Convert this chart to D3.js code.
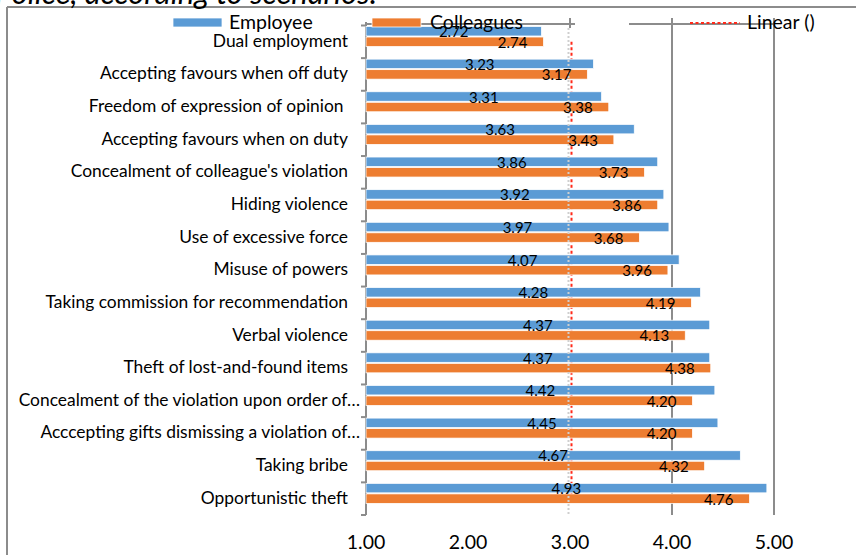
<!DOCTYPE html>
<html>
<head>
<meta charset="utf-8">
<script src="https://cdn.jsdelivr.net/npm/d3@7"></script>
<style>
  html, body { margin: 0; padding: 0; background: #fff; }
  svg { display: block; }
  text { font-family: "Lato", "Liberation Sans", sans-serif; fill: #000; }
</style>
</head>
<body>
<svg id="chart" width="856" height="555"></svg>
<script>
// ---- data ----
const title = "Police, according to scenarios.";
const categories = [
  "Dual employment",
  "Accepting favours when off duty",
  "Freedom of expression of opinion ",
  "Accepting favours when on duty",
  "Concealment of colleague's violation",
  "Hiding violence",
  "Use of excessive force",
  "Misuse of powers",
  "Taking commission for recommendation",
  "Verbal violence",
  "Theft of lost-and-found items",
  "Concealment of the violation upon order of…",
  "Acccepting gifts dismissing a violation of…",
  "Taking bribe",
  "Opportunistic theft"
];
const employee   = [2.72, 3.23, 3.31, 3.63, 3.86, 3.92, 3.97, 4.07, 4.28, 4.37, 4.37, 4.42, 4.45, 4.67, 4.93];
const colleagues = [2.74, 3.17, 3.38, 3.43, 3.73, 3.86, 3.68, 3.96, 4.19, 4.13, 4.38, 4.20, 4.20, 4.32, 4.76];
const seriesNames = ["Employee", "Colleagues"];
const trendName = "Linear ()";
const trendValue = 3.0;
const xTicks = [1, 2, 3, 4, 5];
const xDomain = [1, 5];

// ---- layout ----
const svg = d3.select("#chart");
const colors = { Employee: "#5B9BD5", Colleagues: "#ED7D31" };
const grey = "#8c8c8c";

const x = d3.scaleLinear().domain(xDomain).range([366, 774]);
const y = d3.scaleBand().domain(categories).range([25.5, 515]).padding(0);
const ySub = d3.scaleBand().domain(seriesNames).range([1, 21]).paddingInner(0.1);

const rows = categories.map((c, i) => ({ c, Employee: employee[i], Colleagues: colleagues[i] }));

// frame
svg.append("line").attr("x1", 7).attr("x2", 856).attr("y1", 7).attr("y2", 7)
  .attr("stroke", grey).attr("stroke-width", 2);
svg.append("line").attr("x1", 7).attr("x2", 7).attr("y1", 7).attr("y2", 555)
  .attr("stroke", grey).attr("stroke-width", 2);

// title (cut off at top)
svg.append("text").attr("x", -5).attr("y", 4)
  .style("font-size", "31px").style("font-style", "italic")
  .text(title);

// gridlines
const yTop = 18, yBot = y.range()[1];
svg.append("g").selectAll("line").data(xTicks.filter(t => t >= 4)).join("line")
  .attr("x1", d => x(d)).attr("x2", d => x(d))
  .attr("y1", yTop).attr("y2", yBot)
  .attr("stroke", grey).attr("stroke-width", 2);
svg.append("line").attr("x1", x(3)).attr("x2", x(3)).attr("y1", yTop).attr("y2", 28)
  .attr("stroke", grey).attr("stroke-width", 2);

// top horizontal line segments
svg.append("line").attr("x1", x(1)).attr("x2", x(3) + 5).attr("y1", 24).attr("y2", 24)
  .attr("stroke", grey).attr("stroke-width", 2);
svg.append("line").attr("x1", x(3) + 59).attr("x2", x(5)).attr("y1", 24).attr("y2", 24)
  .attr("stroke", grey).attr("stroke-width", 2);

// trend line (behind bars)
svg.append("line")
  .attr("x1", x(trendValue) + 1.5).attr("x2", x(trendValue) + 1.5)
  .attr("y1", y(categories[0]) + y.bandwidth() / 2)
  .attr("y2", y(categories[categories.length - 1]) + y.bandwidth() / 2)
  .attr("stroke", "#FF2A1A").attr("stroke-width", 2).attr("stroke-dasharray", "3,2.5");

// y axis
const yAxisG = svg.append("g");
yAxisG.append("line").attr("x1", x(1)).attr("x2", x(1)).attr("y1", 22).attr("y2", yBot)
  .attr("stroke", grey).attr("stroke-width", 2);
const bounds = categories.map(c => y(c)).concat([yBot]);
yAxisG.selectAll("line.tk").data(bounds).join("line").attr("class", "tk")
  .attr("x1", x(1) - 5).attr("x2", x(1)).attr("y1", d => d).attr("y2", d => d)
  .attr("stroke", grey).attr("stroke-width", 2);

// category labels
svg.append("g").selectAll("text").data(categories).join("text")
  .attr("x", d => d.endsWith("…") ? 360 : 348)
  .attr("y", d => y(d) + y.bandwidth() / 2 + 5)
  .attr("text-anchor", "end")
  .style("font-size", "17.4px")
  .style("white-space", "pre")
  .text(d => d);

// bars
const barG = svg.append("g");
seriesNames.forEach(s => {
  barG.selectAll("rect." + s).data(rows).join("rect").attr("class", s)
    .attr("x", x(1))
    .attr("y", d => y(d.c) + ySub(s))
    .attr("width", d => x(d[s]) - x(1))
    .attr("height", ySub.bandwidth())
    .attr("fill", colors[s])
    .attr("stroke", "#fff").attr("stroke-width", 0.75);
});

// light dotted gridline at 3 over bars
svg.append("line").attr("x1", x(3) - 1.5).attr("x2", x(3) - 1.5).attr("y1", 28).attr("y2", yBot)
  .attr("stroke", "#cfcfcf").attr("stroke-width", 2).attr("stroke-dasharray", "2,2");

// data labels
const fmt = d3.format(".2f");
svg.append("g").selectAll("text").data(rows).join("text")
  .attr("x", d => (x(1) + x(d.Employee)) / 2)
  .attr("y", d => y(d.c) + ySub("Employee") + ySub.bandwidth() / 2 + 6)
  .attr("text-anchor", "middle")
  .style("font-size", "15px")
  .text(d => fmt(d.Employee));
svg.append("g").selectAll("text").data(rows).join("text")
  .attr("x", d => x(d.Colleagues) - 16)
  .attr("y", d => y(d.c) + ySub("Colleagues") + ySub.bandwidth() / 2 + 6)
  .attr("text-anchor", "end")
  .style("font-size", "15px")
  .text(d => fmt(d.Colleagues));

// x axis tick labels
svg.append("g").selectAll("text").data(xTicks).join("text")
  .attr("x", d => x(d)).attr("y", 549)
  .attr("text-anchor", "middle")
  .style("font-size", "19.5px")
  .text(d => fmt(d));

// legend
const lg = svg.append("g");
lg.append("rect").attr("x", 173).attr("y", 18).attr("width", 49).attr("height", 9)
  .attr("fill", colors.Employee).attr("stroke", "#fff").attr("stroke-width", 0.75);
lg.append("text").attr("x", 229).attr("y", 29).style("font-size", "19.5px").text(seriesNames[0]);
lg.append("rect").attr("x", 372).attr("y", 18).attr("width", 49).attr("height", 9)
  .attr("fill", colors.Colleagues).attr("stroke", "#fff").attr("stroke-width", 0.75);
lg.append("text").attr("x", 430).attr("y", 29).style("font-size", "19.5px").text(seriesNames[1]);
lg.append("line").attr("x1", 690).attr("x2", 740).attr("y1", 23).attr("y2", 23)
  .attr("stroke", "#FF2A1A").attr("stroke-width", 2).attr("stroke-dasharray", "3,2.5");
lg.append("text").attr("x", 747).attr("y", 29).style("font-size", "19.5px").text(trendName);
</script>
</body>
</html>
